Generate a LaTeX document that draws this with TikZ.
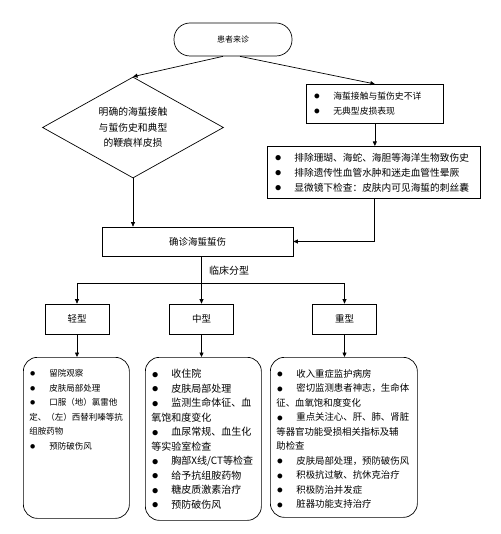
\documentclass[tikz,border=0pt]{standalone}
\usepackage{fontspec}
\newfontfamily\cjk{Noto Sans CJK SC}
\usetikzlibrary{arrows.meta, positioning, shapes.geometric}

\newcommand\carebul{\makebox[20pt][l]{\hspace{0.5pt}\raisebox{-0.3pt}{\scalebox{1.35}{$\bullet$}}}}

\begin{document}
\begin{tikzpicture}[
  x=1pt, y=-1pt,
  line width=0.7pt,
  every node/.style={font=\cjk},
  startstop/.style={draw, rounded corners=16pt, minimum width=118pt, minimum height=33pt, font=\cjk\fontsize{8}{10}\selectfont},
  decision/.style={draw, diamond, aspect=1.8, minimum width=181pt, minimum height=101pt, inner sep=0pt, align=center, font=\cjk\fontsize{9.8}{15.5}\selectfont},
  notebox/.style={draw, align=left, anchor=north west, inner xsep=7pt, inner ysep=0pt, font=\cjk\fontsize{#1}{15}\selectfont},
  process/.style={draw, minimum width=64pt, minimum height=30pt, font=\cjk\fontsize{9.5}{12}\selectfont},
  carebox/.style={draw, rounded corners=14pt, anchor=north west, inner xsep=6pt, inner ysep=12pt, font=\cjk\fontsize{#1}{14.5}\selectfont},
  signal/.style={-{Triangle[length=4.5pt,width=4pt]}}
]
\useasboundingbox (0,0) rectangle (500,534);

% Arrival
\node[startstop] (visit) at (233,39.5) {患者来诊};

% Diagnosis paths
\node[decision] (history) at (133,127.5) {明确的海蜇接触\\与蜇伤史和典型\\的鞭痕样皮损};
\node[notebox=8.8, text width=123pt, minimum height=39pt] (unclear) at (306,84)
  {\carebul 海蜇接触与蜇伤史不详\\\carebul 无典型皮损表现};
\node[notebox=9.7, text width=199pt, minimum height=52pt] (exclude) at (267,146)
  {\carebul 排除珊瑚、海蛇、海胆等海洋生物致伤史\\\carebul 排除遗传性血管水肿和迷走血管性晕厥\\\carebul 显微镜下检查：皮肤内可见海蜇的刺丝囊};
\node[process, minimum width=191pt, minimum height=29pt] (confirm) at (197.5,241.5) {确诊海蜇蜇伤};

\draw[signal] ([xshift=-10pt]visit.south) -- (history.north);
\draw[signal] ([xshift=7pt]visit.south) -- (unclear.north);
\draw[signal] (unclear.south) -- (unclear.south |- exclude.north);
\draw[signal] (history.south) -- (history.south |- confirm.north);
\draw[signal] (exclude.south) |- (confirm.east);

% Clinical types
\coordinate (split) at (201.5,283);
\node[font=\cjk\fontsize{10}{12}\selectfont] (typing) at (229,271) {临床分型};
\draw (confirm.south -| split) -- (split);
\foreach \t/\name/\x in {light/轻型/77, mid/中型/201.5, severe/重型/344.5} {
  \node[process] (\t) at (\x,319) {\name};
  \draw[signal] (split) -| (\t.north);
}

% Treatment
\node[carebox=8.5] (lightcare) at (23,357) {\parbox[t][137pt][t]{94pt}{\raggedright
  \carebul 留院观察\\
  \carebul 皮肤局部处理\\
  \carebul 口服（地）氯雷他\\
  定、（左）西替利嗪等抗\\
  组胺药物\\
  \carebul 预防破伤风}};
\node[carebox=10] (midcare) at (145,357) {\parbox[t][139pt][t]{104pt}{\raggedright
  \carebul 收住院\\
  \carebul 皮肤局部处理\\
  \carebul 监测生命体征、血\\
  氧饱和度变化\\
  \carebul 血尿常规、血生化\\
  等实验室检查\\
  \carebul 胸部X线/CT等检查\\
  \carebul 给予抗组胺药物\\
  \carebul 糖皮质激素治疗\\
  \carebul 预防破伤风}};
\node[carebox=9.4] (severecare) at (270,357) {\parbox[t][136pt][t]{135pt}{\raggedright
  \carebul 收入重症监护病房\\
  \carebul 密切监测患者神志，生命体\\
  征、血氧饱和度变化\\
  \carebul 重点关注心、肝、肺、肾脏\\
  等器官功能受损相关指标及辅\\
  助检查\\
  \carebul 皮肤局部处理，预防破伤风\\
  \carebul 积极抗过敏、抗休克治疗\\
  \carebul 积极防治并发症\\
  \carebul 脏器功能支持治疗}};

\draw[signal] (light.south) -- (light.south |- lightcare.north);
\draw[signal] (mid.south) -- (mid.south |- midcare.north);
\draw[signal] (severe.south) -- (severe.south |- severecare.north);

\end{tikzpicture}
\end{document}
